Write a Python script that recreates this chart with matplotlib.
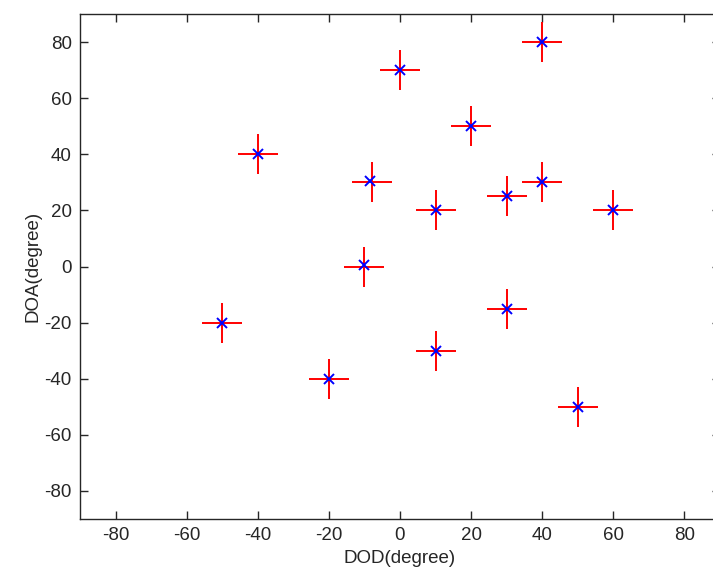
import matplotlib.pyplot as plt

plt.rcParams['font.family'] = ['Liberation Sans', 'DejaVu Sans']
plt.rcParams['axes.unicode_minus'] = False

# true source directions (DOD, DOA) in degrees
dod_true = [0, 40, 20, -40, -8, 10, 30, 40, 60, -10, -50, 30, 10, -20, 50]
doa_true = [70, 80, 50, 40, 30, 20, 25, 30, 20, 0, -20, -15, -30, -40, -50]

# estimated directions
dod_est = [0, 40, 20, -40, -8.5, 10, 30, 40, 60, -10, -50, 30, 10, -20, 50]
doa_est = [70, 80, 50, 40, 30.5, 20, 25, 30, 20, 0.5, -20, -15, -30, -40, -50]

fig = plt.figure(figsize=(7.13, 5.79), dpi=100)
ax = fig.add_axes([0.1122, 0.1036, 0.8976, 0.8722])

ax.plot(dod_true, doa_true, '+', color='red', markersize=29.5, markeredgewidth=1.4, linestyle='none')
ax.plot(dod_est, doa_est, 'x', color='blue', markersize=6.5, markeredgewidth=1.4, linestyle='none')

ax.set_xlim(-90, 90)
ax.set_ylim(-90, 90)
ax.set_xticks(range(-80, 81, 20))
ax.set_yticks(range(-80, 81, 20))

ax.tick_params(direction='in', length=5.5, width=1, top=True, right=True,
               labelsize=13.5, colors='#262626', pad=6)
for s in ax.spines.values():
    s.set_color('#262626')
    s.set_linewidth(1)

ax.set_xlabel('DOD(degree)', fontsize=13.5, color='#262626', labelpad=4)
ax.set_ylabel('DOA(degree)', fontsize=13.5, color='#262626', labelpad=2)

fig.savefig('out.png', dpi=100)
